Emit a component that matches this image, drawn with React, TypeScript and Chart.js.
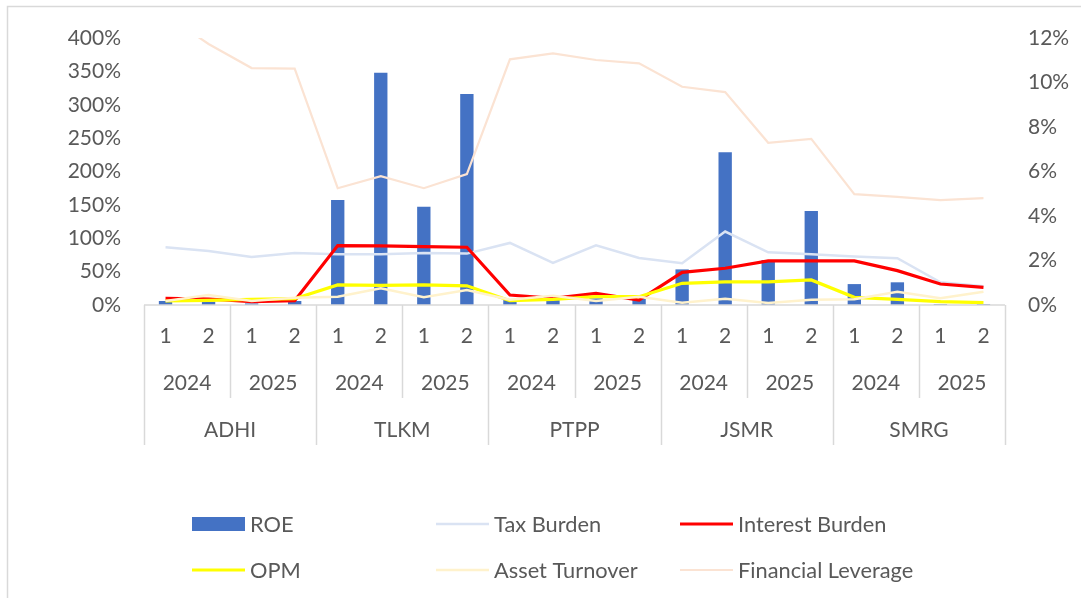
import React, { useEffect, useRef } from "react";
import { Chart, registerables } from "chart.js";

Chart.register(...registerables);

// ---- data ----
const companies = ["ADHI", "TLKM", "PTPP", "JSMR", "SMRG"];
const years = ["2024", "2025"];
const halves = ["1", "2"];

// ROE on the secondary (right) axis, in %
const roe = [0.18, 0.15, 0.07, 0.18, 4.72, 10.44, 4.42, 9.48, 0.22, 0.22, 0.3, 0.27, 1.6, 6.86, 2.02, 4.22, 0.94, 1.02, 0.04, 0.04];
// Primary (left) axis series, in %
const taxBurden = [86.5, 81, 72, 78, 76, 76, 78, 77, 93, 63, 89.5, 70.5, 62.5, 110, 79, 76, 72.5, 70, 34, 28];
const interestBurden = [10, 9, 5, 6.5, 89, 88.5, 87.5, 86.5, 15, 10, 17.5, 7.5, 49, 55, 66, 66, 66, 51.5, 31.5, 26.5];
const opm = [6, 7, 8.5, 9.5, 30, 29.5, 30, 28.7, 6.5, 8.5, 12.5, 12.5, 32.5, 34.5, 34.5, 37.5, 11.5, 8.5, 5, 3.5];
const assetTurnover = [6, 15, 6, 11, 12.5, 25, 11.5, 22.5, 8, 14, 6, 12.5, 3.5, 9.5, 3, 8, 8.5, 20, 10, 20];
const financialLeverage = [435, 391, 355, 354, 175, 193, 175, 196, 368, 377, 367, 362, 327, 319, 243, 249, 166, 162, 157, 160];

const leftTicksMax = 400;
const leftTicksStep = 50;
const rightTicksMax = 12;
const rightTicksStep = 2;

const FONT = "Lato";
const TEXT = "#595959";
const GRID = "#d9d9d9";
const W = 1081;
const H = 598;

const labels: string[][] = [];
companies.forEach((c) =>
  years.forEach((y) => halves.forEach((h) => labels.push([h, y, c])))
);

const multiLevelAxis = {
  id: "multiLevelAxis",
  afterDraw(chart: any) {
    const { ctx, chartArea } = chart;
    const n = chart.data.labels.length;
    const step = (chartArea.right - chartArea.left) / n;
    const base = chartArea.bottom;
    const perYear = halves.length;
    const perCompany = years.length * halves.length;
    ctx.save();
    // frame
    ctx.strokeStyle = GRID;
    ctx.lineWidth = 1.5;
    ctx.beginPath();
    ctx.moveTo(7.5, H);
    ctx.lineTo(7.5, 6.5);
    ctx.lineTo(W, 6.5);
    ctx.stroke();
    // baseline
    ctx.beginPath();
    ctx.moveTo(chartArea.left, base);
    ctx.lineTo(chartArea.right, base);
    ctx.stroke();
    for (let i = 0; i <= n; i++) {
      const px = Math.round(chartArea.left + i * step) + 0.5;
      let bottom = 0;
      if (i % perCompany === 0) bottom = base + 140;
      else if (i % perYear === 0) bottom = base + 93;
      if (bottom) {
        ctx.beginPath();
        ctx.moveTo(px, base);
        ctx.lineTo(px, bottom);
        ctx.stroke();
      }
    }
    ctx.fillStyle = TEXT;
    ctx.font = `21px ${FONT}`;
    ctx.textAlign = "center";
    ctx.textBaseline = "middle";
    for (let i = 0; i < n; i++) {
      const cx = chartArea.left + (i + 0.5) * step;
      ctx.fillText(labels[i][0], cx, base + 31);
    }
    for (let i = 0; i < n; i += perYear) {
      const cx = chartArea.left + (i + perYear / 2) * step;
      ctx.fillText(labels[i][1], cx, base + 78);
    }
    for (let i = 0; i < n; i += perCompany) {
      const cx = chartArea.left + (i + perCompany / 2) * step;
      ctx.fillText(labels[i][2], cx, base + 125);
    }
    // legend
    const datasets = chart.data.datasets;
    const colX0 = 192;
    const colW = 244;
    const rowY0 = 524;
    const rowH = 46;
    const symW = 53;
    ctx.textAlign = "left";
    ctx.font = `21.8px ${FONT}`;
    datasets.forEach((ds: any, k: number) => {
      const col = k % 3;
      const row = Math.floor(k / 3);
      const x = colX0 + col * colW;
      const y = rowY0 + row * rowH;
      if (ds.type === "bar") {
        ctx.fillStyle = ds.backgroundColor;
        ctx.fillRect(x, y - 7, symW, 14);
      } else {
        ctx.strokeStyle = ds.borderColor;
        ctx.lineWidth = ds.borderWidth;
        ctx.beginPath();
        ctx.moveTo(x, y);
        ctx.lineTo(x + symW, y);
        ctx.stroke();
      }
      ctx.fillStyle = TEXT;
      ctx.fillText(ds.label, x + symW + 5, y + 1);
    });
    ctx.restore();
  },
};

export default function App() {
  const ref = useRef<HTMLCanvasElement | null>(null);
  useEffect(() => {
    if (!ref.current) return;
    const line = (label: string, data: number[], color: string, width: number, order: number) => ({
      type: "line" as const,
      label,
      data,
      borderColor: color,
      backgroundColor: color,
      borderWidth: width,
      pointRadius: 0,
      tension: 0,
      fill: false,
      yAxisID: "y",
      order,
    });
    const chart = new Chart(ref.current, {
      type: "bar",
      data: {
        labels: labels.map((l) => l.join(" ")),
        datasets: [
          {
            type: "bar",
            label: "ROE",
            data: roe,
            backgroundColor: "#4472C4",
            borderWidth: 0,
            yAxisID: "y1",
            barPercentage: 0.31,
            categoryPercentage: 1,
            order: 10,
          } as any,
          line("Tax Burden", taxBurden, "#DAE3F3", 2.5, 5),
          line("Interest Burden", interestBurden, "#FF0000", 3.2, 4),
          line("OPM", opm, "#FFFF00", 3.2, 3),
          line("Asset Turnover", assetTurnover, "#FFF2CC", 2.5, 2),
          line("Financial Leverage", financialLeverage, "#FBE3D3", 2.2, 1),
        ],
      },
      options: {
        responsive: false,
        maintainAspectRatio: false,
        animation: false,
        layout: { padding: { top: 38, left: 0, right: 0, bottom: 0 } },
        plugins: { legend: { display: false }, tooltip: { enabled: false } },
        scales: {
          x: {
            offset: true,
            grid: { display: false },
            border: { display: false },
            ticks: { display: false },
            afterFit(s: any) {
              s.height = H - 305;
            },
          },
          y: {
            position: "left",
            min: 0,
            max: leftTicksMax,
            grid: { display: false, drawTicks: false },
            border: { display: false },
            ticks: {
              stepSize: leftTicksStep,
              padding: 23,
              color: TEXT,
              font: { family: FONT, size: 21 },
              callback: (v: any) => `${v}%`,
            },
            afterFit(s: any) {
              s.width = 144;
            },
          },
          y1: {
            position: "right",
            min: 0,
            max: rightTicksMax,
            grid: { display: false, drawTicks: false },
            border: { display: false },
            ticks: {
              stepSize: rightTicksStep,
              padding: 23,
              color: TEXT,
              font: { family: FONT, size: 21 },
              callback: (v: any) => `${v}%`,
            },
            afterFit(s: any) {
              s.width = W - 1005;
            },
          },
        },
      } as any,
      plugins: [multiLevelAxis],
    });
    return () => chart.destroy();
  }, []);
  return (
    <div style={{ position: "fixed", left: 0, top: 0, width: W, height: H, background: "#fff" }}>
      <canvas ref={ref} width={W} height={H} style={{ display: "block", width: W, height: H }} />
    </div>
  );
}
